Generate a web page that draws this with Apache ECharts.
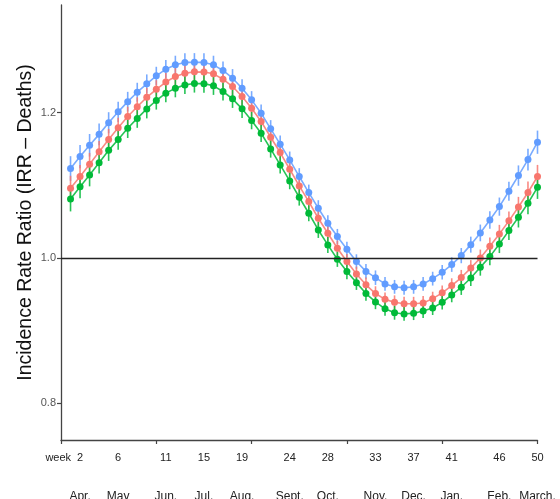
<!DOCTYPE html>
<html>
<head>
<meta charset="utf-8">
<script src="https://cdn.jsdelivr.net/npm/echarts@6/dist/echarts.min.js"></script>
<style>
html,body{margin:0;padding:0;background:#fff;}
#c{width:560px;height:499px;}
</style>
</head>
<body>
<div id="c"></div>
<script>
const weeks = [1,2,3,4,5,6,7,8,9,10,11,12,13,14,15,16,17,18,19,20,21,22,23,24,25,26,27,28,29,30,31,32,33,34,35,36,37,38,39,40,41,42,43,44,45,46,47,48,49,50];

const blueIRR = [1.123,1.1395,1.155,1.170,1.186,1.201,1.215,1.228,1.2395,1.2505,
  1.2597,1.2657,1.269,1.2693,1.269,1.2657,1.2579,1.2473,1.2335,1.2175,
  1.1991,1.1776,1.1565,1.1349,1.112,1.0899,1.0684,1.0477,1.0294,1.0119,
  0.995,0.9815,0.9728,0.9642,0.9602,0.959,0.9602,0.9642,0.9715,0.9802,
  0.9908,1.0032,1.0183,1.0344,1.0523,1.0706,1.0917,1.1133,1.1353,1.1592];

const redIRR = [1.096,1.112,1.129,1.146,1.163,1.179,1.1945,1.208,1.221,1.232,
  1.242,1.2496,1.2542,1.256,1.2557,1.2533,1.2459,1.2358,1.2221,1.206,
  1.1877,1.1661,1.145,1.122,1.0991,1.0775,1.0546,1.034,1.0133,0.995,
  0.978,0.963,0.951,0.943,0.939,0.937,0.937,0.938,0.944,0.952,
  0.962,0.973,0.986,1.000,1.016,1.033,1.051,1.070,1.090,1.112];

const greenIRR = [1.081,1.098,1.114,1.131,1.148,1.163,1.1785,1.192,1.205,1.2166,
  1.2267,1.2335,1.2381,1.240,1.2398,1.2368,1.229,1.2189,1.2051,1.189,
  1.1716,1.15,1.128,1.106,1.0835,1.0615,1.0385,1.0179,0.9982,0.9812,
  0.966,0.951,0.9395,0.930,0.9245,0.9229,0.924,0.927,0.931,0.939,
  0.949,0.9596,0.9724,0.9871,1.0018,1.0192,1.0376,1.0559,1.0752,1.0972];

// half-width of the confidence interval at each week
const ciHalf = [0.017,0.016,0.0155,0.015,0.0145,0.014,0.0135,0.013,0.013,0.0125,
  0.0125,0.0125,0.0125,0.0125,0.0125,0.0125,0.0125,0.0125,0.0125,0.012,
  0.012,0.012,0.012,0.0115,0.0115,0.011,0.011,0.011,0.0105,0.0105,
  0.01,0.01,0.01,0.0095,0.0095,0.0095,0.0095,0.0095,0.0095,0.01,
  0.01,0.0105,0.011,0.0115,0.012,0.0125,0.013,0.014,0.015,0.016];

const weekTickLabels = [2,6,11,15,19,24,28,33,37,41,46,50];
const monthLabels = ['Apr.','May','Jun.','Jul.','Aug.','Sept.','Oct.','Nov.','Dec.','Jan.','Feb.','March.'];
const xTicks = [0,10,20,30,40,50];
const yTickLabels = [0.8,1.0,1.2];
const refLineValue = 1.0;

const seriesDefs = [
  {name:'blue', color:'#619CFF', values: blueIRR},
  {name:'red', color:'#F8766D', values: redIRR},
  {name:'green', color:'#00BA38', values: greenIRR}
];

const FONT = 'Liberation Sans, Arial, Helvetica, sans-serif';

const chart = echarts.init(document.getElementById('c'), null, {renderer:'canvas'});

const series = [];
seriesDefs.forEach(function(s, si){
  const pts = weeks.map(function(w,i){ return [w, s.values[i], ciHalf[i]]; });
  series.push({
    type:'custom',
    name: s.name + '-ci',
    data: pts,
    silent:true,
    z: 2,
    renderItem: function(params, api){
      const x = api.value(0), y = api.value(1), e = api.value(2);
      const p1 = api.coord([x, y - e]);
      const p2 = api.coord([x, y + e]);
      return {type:'line', shape:{x1:p1[0], y1:p1[1], x2:p2[0], y2:p2[1]},
        style:{stroke:s.color, lineWidth:1.6, opacity:0.85}};
    }
  });
  const line = {
    type:'line',
    name: s.name,
    data: pts.map(function(p){ return [p[0], p[1]]; }),
    symbol:'circle',
    symbolSize:7,
    showSymbol:true,
    silent:true,
    z: 3,
    lineStyle:{color:s.color, width:1.6, opacity:0.85},
    itemStyle:{color:s.color},
    animation:false
  };
  if (si === 0) {
    line.markLine = {
      silent:true, symbol:['none','none'], label:{show:false},
      lineStyle:{color:'#222', width:1.3, type:'solid'},
      data:[{yAxis: refLineValue}],
      animation:false
    };
  }
  series.push(line);
});

chart.setOption({
  animation:false,
  backgroundColor:'#fff',
  grid:{left:61, right:22.5, top:5, bottom:59, containLabel:false, outerBoundsMode:'none'},
  xAxis:{
    type:'value', min:0, max:50,
    axisLine:{show:true, lineStyle:{color:'#444', width:1.3}},
    axisTick:{show:true, customValues:xTicks, length:4, inside:false, lineStyle:{color:'#444', width:1.2}},
    splitLine:{show:false},
    axisLabel:{
      show:true,
      customValues: weekTickLabels,
      margin:11,
      formatter:function(v){
        const idx = weekTickLabels.indexOf(Math.round(v));
        return '{a|' + v + '}\n{b|' + (idx >= 0 ? monthLabels[idx] : '') + '}';
      },
      rich:{
        a:{fontSize:11, lineHeight:14, color:'#222', fontFamily:FONT},
        b:{fontSize:12, lineHeight:64, color:'#222', fontFamily:FONT}
      }
    }
  },
  yAxis:{
    type:'value', min:0.7495, max:1.348,
    name:'Incidence Rate Ratio (IRR \u2013 Deaths)',
    nameLocation:'middle',
    nameGap:25,
    nameMoveOverlap:false,
    nameTextStyle:{fontSize:19.5, color:'#111', fontFamily:FONT},
    axisLine:{show:true, lineStyle:{color:'#444', width:1.3}},
    axisTick:{show:true, customValues:yTickLabels, length:4, lineStyle:{color:'#444', width:1.2}},
    splitLine:{show:false},
    axisLabel:{
      show:true, customValues:yTickLabels, margin:5,
      formatter:function(v){ return v.toFixed(1); },
      fontSize:11, color:'#555', fontFamily:FONT
    }
  },
  series:series
});

// "week" prefix before the first week tick label
const p2 = chart.convertToPixel({xAxisIndex:0}, weekTickLabels[0]);
chart.setOption({
  graphic:[{
    type:'text', silent:true,
    x: p2 - 9, y: 458,
    style:{text:'week', fontSize:11, fill:'#222', fontFamily:FONT, align:'right', verticalAlign:'middle'}
  }]
});
</script>
</body>
</html>
